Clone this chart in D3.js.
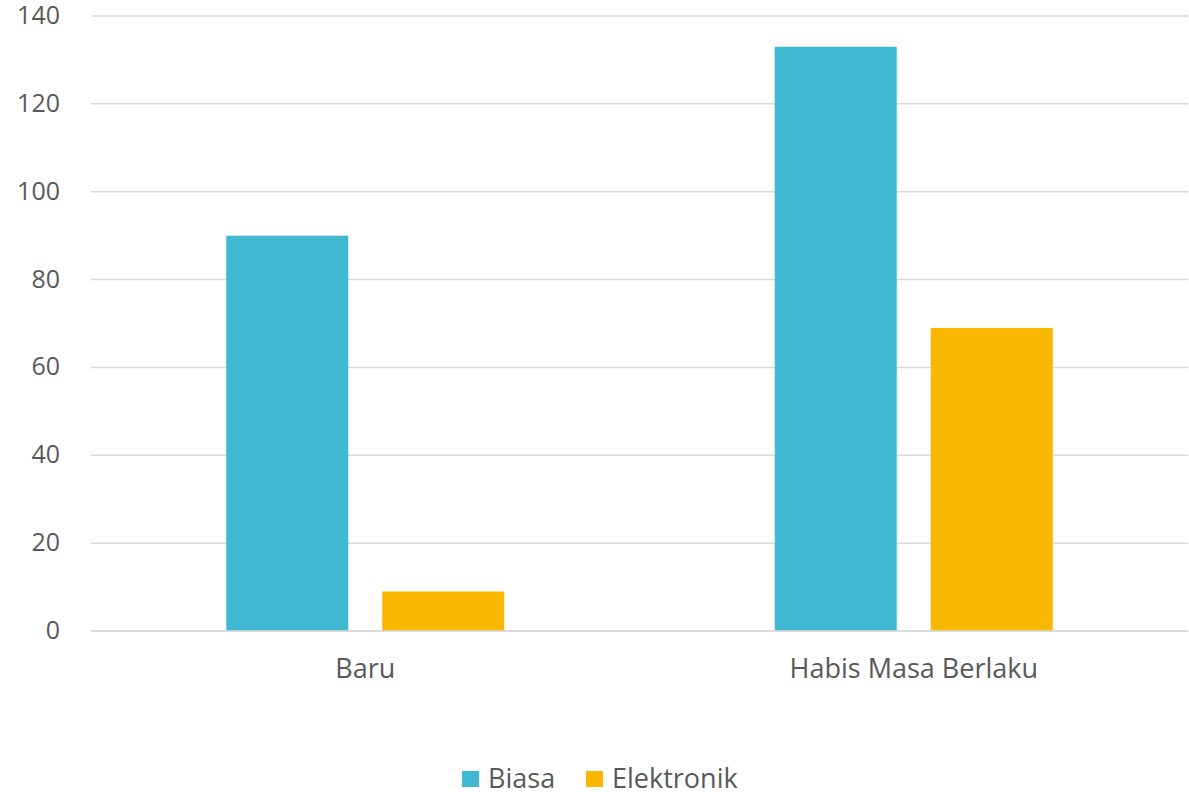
<!DOCTYPE html>
<html><head><meta charset="utf-8">
<script src="https://cdn.jsdelivr.net/npm/d3@7"></script>
<style>body{margin:0;background:#fff;} text{font-family:"Open Sans",sans-serif;fill:#595959;}</style>
</head><body>
<svg id="c" width="1189" height="792"></svg>
<script>
const categories = ["Baru", "Habis Masa Berlaku"];
const seriesNames = ["Biasa", "Elektronik"];
const biasa = [90, 133];
const elektronik = [9, 69];
const yTicks = [0, 20, 40, 60, 80, 100, 120, 140];
const colors = ["#41B9D3", "#FAB800"];

const svg = d3.select("#c");
const m = {l: 91, r: 1, t: 16, b: 161};
const W = 1189, H = 792;
const x = d3.scaleBand().domain(categories).range([m.l, W - m.r]);
const y = d3.scaleLinear().domain([0, 140]).range([H - m.b, m.t]);
const barW = 122, gap = 34;
const groupW = 2 * barW + gap;

// gridlines
svg.append("g").selectAll("line").data(yTicks).join("line")
  .attr("x1", m.l).attr("x2", W - m.r)
  .attr("y1", d => y(d)).attr("y2", d => y(d))
  .attr("stroke", "#d9d9d9").attr("stroke-width", 1.5);

// y labels
const ya = svg.append("g").attr("transform", `translate(${m.l - 31},0)`)
  .call(d3.axisLeft(y).tickValues(yTicks).tickSize(0).tickPadding(0));
ya.select(".domain").remove();
ya.selectAll("text").style("font-size", "25px").attr("fill", "#595959").attr("dy", "0.3em")
  .style("font-family", "Open Sans, sans-serif");

const series = [biasa, elektronik];
series.forEach((vals, si) => {
  svg.append("g").selectAll("rect").data(categories).join("rect")
    .attr("x", (c) => x(c) + x.bandwidth() / 2 - groupW / 2 + si * (barW + gap))
    .attr("width", barW)
    .attr("y", (c, i) => y(vals[i]))
    .attr("height", (c, i) => y(0) - y(vals[i]))
    .attr("fill", colors[si]);
});

// x axis line
svg.append("line").attr("x1", m.l).attr("x2", W - m.r).attr("y1", y(0)).attr("y2", y(0))
  .attr("stroke", "#d9d9d9").attr("stroke-width", 1.5);

const xa = svg.append("g").attr("transform", `translate(0,${y(0)})`)
  .call(d3.axisBottom(x).tickSize(0).tickPadding(28));
xa.select(".domain").remove();
xa.selectAll("text").style("font-size", "27px").attr("fill", "#595959")
  .style("font-family", "Open Sans, sans-serif");

// legend
const lg = svg.append("g");
const legX = [462, 586];
seriesNames.forEach((s, i) => {
  lg.append("rect").attr("x", legX[i]).attr("y", 771).attr("width", 17).attr("height", 16).attr("fill", colors[i]);
  lg.append("text").attr("x", legX[i] + 26).attr("y", 779).attr("dy", "0.35em")
    .style("font-size", "27px").text(s);
});
</script>
</body></html>
